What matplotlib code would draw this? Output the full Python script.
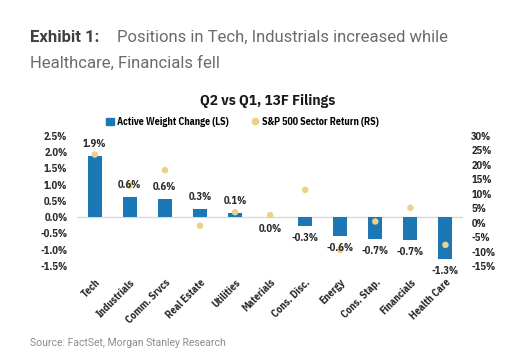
import numpy as np
import matplotlib
matplotlib.use('Agg')
import matplotlib.pyplot as plt
from matplotlib.lines import Line2D
from matplotlib.patches import Patch

sectors = ['Tech', 'Industrials', 'Comm. Srvcs', 'Real Estate', 'Utilities', 'Materials',
           'Cons. Disc.', 'Energy', 'Cons. Stap.', 'Financials', 'Health Care']
weight_change = [1.87, 0.62, 0.55, 0.26, 0.12, 0.0, -0.28, -0.59, -0.68, -0.70, -1.28]
weight_labels = ['1.9%', '0.6%', '0.6%', '0.3%', '0.1%', '0.0%', '-0.3%', '-0.6%', '-0.7%', '-0.7%', '-1.3%']
sector_return = [23.5, 12.8, 18.1, -1.1, 3.6, 2.6, 11.3, -9.5, 0.4, 5.1, -7.7]
left_ticks = [-1.5, -1.0, -0.5, 0.0, 0.5, 1.0, 1.5, 2.0, 2.5]
right_ticks = [-15, -10, -5, 0, 5, 10, 15, 20, 25, 30]

BLUE = '#1b78b5'
GOLD = '#ecd089'
CHART_FONT = ['IBM Plex Sans Condensed', 'Roboto Condensed', 'Archivo Narrow', 'DejaVu Sans']
HEAD_FONT = ['Roboto', 'DejaVu Sans']

plt.rcParams['font.family'] = CHART_FONT

fig = plt.figure(figsize=(5.15, 3.6), dpi=100)
ax = fig.add_axes([0.150, 0.261, 0.749, 0.362])
ax2 = ax.twinx()

x = np.arange(len(sectors))
ax.bar(x, weight_change, width=0.4, color=BLUE, zorder=2)
ax.axhline(0, color='#d9d9d9', lw=1, zorder=1)
ax.set_xlim(-0.5, len(sectors) - 0.5)
ax.set_ylim(-1.5, 2.5)
ax.set_yticks(left_ticks)
ax.set_yticklabels([f'{t:.1f}%' for t in left_ticks])

ax2.scatter(x, sector_return, s=22, color=GOLD, zorder=3, edgecolors='none')
ax2.set_ylim(-15, 30)
ax2.set_yticks(right_ticks)
ax2.set_yticklabels([f'{t}%' for t in right_ticks])

# data labels live on the twin axes (drawn over the dots) but use the left scale
for xi, v, lab in zip(x, weight_change, weight_labels):
    off = 5 if v > 0 else -5
    ax2.annotate(lab, (xi, v), xycoords=ax.transData,
                 xytext=(0, off), textcoords='offset points',
                 ha='center', va='bottom' if v > 0 else 'top',
                 fontsize=7.5, fontweight='bold', color='#262626', zorder=5)

for a in (ax, ax2):
    for s in a.spines.values():
        s.set_visible(False)
    a.tick_params(length=0, labelsize=7.5, labelcolor='#262626')
    for t in a.get_yticklabels():
        t.set_fontweight('bold')
ax.tick_params(axis='y', pad=7)
ax2.tick_params(axis='y', pad=6)

ax.set_xticks(x)
ax.set_xticklabels(sectors, rotation=45, ha='right', va='top', rotation_mode='anchor',
                   fontweight='bold', fontsize=7.5)
ax.tick_params(axis='x', pad=8)

fig.text(0.52, 0.72, 'Q2 vs Q1, 13F Filings', ha='center', va='center',
         fontsize=11, fontweight='bold', color='#1a1a1a')

handles = [Patch(color=BLUE), Line2D([], [], marker='o', ls='none', color=GOLD, markersize=4.5)]
fig.legend(handles, ['Active Weight Change (LS)', 'S&P 500 Sector Return (RS)'],
           loc='center', bbox_to_anchor=(0.471, 0.661), ncol=2, frameon=False,
           prop={'family': CHART_FONT, 'weight': 'bold', 'size': 7.2},
           handlelength=0.8, handleheight=0.8, handletextpad=0.3, columnspacing=2.2)

fig.text(0.058, 0.895, 'Exhibit 1:', fontsize=12, fontweight='bold', color='#404040',
         family=HEAD_FONT, va='center')
fig.text(0.227, 0.895, 'Positions in Tech, Industrials increased while', fontsize=12,
         color='#6b6b6b', family=HEAD_FONT, va='center')
fig.text(0.058, 0.825, 'Healthcare, Financials fell', fontsize=12,
         color='#6b6b6b', family=HEAD_FONT, va='center')
fig.text(0.058, 0.047, 'Source: FactSet, Morgan Stanley Research', fontsize=7.5,
         color='#8c8c8c', family=HEAD_FONT, va='center')

fig.savefig('out.png', dpi=100, facecolor='white')
